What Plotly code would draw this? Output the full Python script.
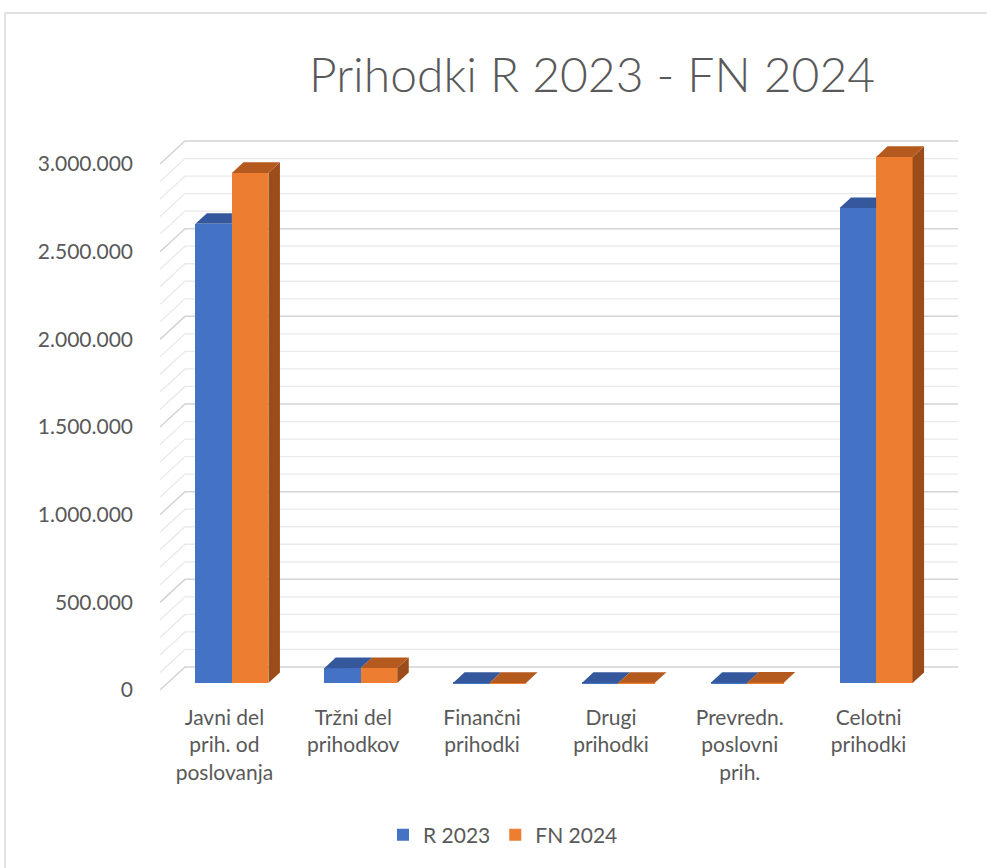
import plotly.graph_objects as go

# ---------------- data ----------------
categories = ["Javni del<br>prih. od<br>poslovanja", "Tržni del<br>prihodkov", "Finančni<br>prihodki",
              "Drugi<br>prihodki", "Prevredn.<br>poslovni<br>prih.", "Celotni<br>prihodki"]
series_names = ["R 2023", "FN 2024"]
r2023 = [2620000, 85000, 1000, 1000, 2000, 2709000]
fn2024 = [2910000, 86000, 1000, 1500, 2500, 3001000]
y_tick_values = [0, 500000, 1000000, 1500000, 2000000, 2500000, 3000000]
y_tick_labels = ["0", "500.000", "1.000.000", "1.500.000", "2.000.000", "2.500.000", "3.000.000"]
grid_step = 100000

# ---------------- styles / geometry ----------------
W, H = 987, 868
ML, MR, MT, MB = 160, 29, 138, 175
plot_w = W - ML - MR
plot_h = H - MT - MB
ncat = len(categories)
depth_px_x, depth_px_y = 25, 23
ppx = (plot_w - depth_px_x) / ncat          # px per category unit
DX = depth_px_x / ppx
front0_px = 690 - MT                          # px from plot top where front 0 sits
ppy = 526 / 3000000                           # px per value unit
ymax = front0_px / ppy
ymin = -(plot_h - front0_px) / ppy
DY = depth_px_y / ppy
BW = 36.5 / ppx
d0, d1 = 0.30, 0.76
dd = d1 - d0

blue, orange = "#4472C4", "#ED7D31"
blue_top, orange_top = "#34589B", "#B55A1E"
orange_side = "#9C4C19"
text_col = "#595959"
FONT = "Lato"

fig = go.Figure()

# back wall + side wall gridlines (shapes, drawn below the bars)
shapes = []
v = 0
while v <= y_tick_values[-1]:
    major = (v % 500000 == 0)
    col = "#D4D4D4" if major else "#E9E9E9"
    wid = 1.5 if major else 1.3
    path = (f"M {-0.5},{v} L {-0.5 + DX},{v + DY} L {ncat - 0.5 + DX},{v + DY}")
    shapes.append(dict(type="path", xref="x", yref="y", path=path,
                       line=dict(color=col, width=wid), layer="below"))
    v += grid_step

# outer chart border
shapes.append(dict(type="rect", xref="paper", yref="paper",
                   x0=(5 - ML) / plot_w, x1=1.2, y0=-0.5, y1=(H - MB - 13) / plot_h,
                   line=dict(color="#D9D9D9", width=1.5), fillcolor="rgba(0,0,0,0)", layer="below"))

# front faces as bars
for s, (name, vals, col) in enumerate(zip(series_names, [r2023, fn2024], [blue, orange])):
    fig.add_trace(go.Bar(
        x=[i + (s - 0.5) * BW + d0 * DX for i in range(ncat)],
        y=vals, base=d0 * DY, width=BW, name=name,
        marker=dict(color=col, line=dict(width=0)), hoverinfo="skip"))

# 3D top and side faces
for i in range(ncat):
    # blue (left) top face, clipped by orange front face
    xl = i - BW + d0 * DX
    xr = i + d0 * DX
    top = r2023[i] + d0 * DY
    topO = fn2024[i] + d0 * DY
    t = min(max(topO, top), top + dd * DY)
    px_ = [xl, xr, xr, xr + dd * DX * (t - top) / (dd * DY), xr + dd * DX, xl + dd * DX, xl]
    py_ = [top, top, t, t, top + dd * DY, top + dd * DY, top]
    fig.add_trace(go.Scatter(x=px_, y=py_, fill="toself", fillcolor=blue_top, mode="lines",
                             line=dict(width=0, color=blue_top), showlegend=False, hoverinfo="skip"))
    # orange (right) top + side faces
    xl = i + d0 * DX
    xr = i + BW + d0 * DX
    base = d0 * DY
    fig.add_trace(go.Scatter(
        x=[xr, xr + dd * DX, xr + dd * DX, xr, xr],
        y=[base, base + dd * DY, topO + dd * DY, topO, base],
        fill="toself", fillcolor=orange_side, mode="lines",
        line=dict(width=0, color=orange_side), showlegend=False, hoverinfo="skip"))
    fig.add_trace(go.Scatter(
        x=[xl, xr, xr + dd * DX, xl + dd * DX, xl],
        y=[topO, topO, topO + dd * DY, topO + dd * DY, topO],
        fill="toself", fillcolor=orange_top, mode="lines",
        line=dict(width=0, color=orange_top), showlegend=False, hoverinfo="skip"))

fig.update_layout(
    width=W, height=H,
    margin=dict(l=ML, r=MR, t=MT, b=MB),
    paper_bgcolor="white", plot_bgcolor="rgba(0,0,0,0)",
    barmode="overlay", bargap=0,
    separators=",.",
    font=dict(family=FONT, color=text_col, size=18),
    title=dict(text="Prihodki R 2023 - FN 2024", x=(592 - ML) / plot_w, xref="paper", xanchor="center",
               y=1 - 75 / H, yanchor="middle",
               font=dict(family=FONT, size=48, color=text_col, weight=300)),
    xaxis=dict(range=[-0.5, ncat - 0.5 + DX], tickmode="array", tickvals=list(range(ncat)),
               ticktext=categories, showgrid=False, zeroline=False, showline=False, ticks="",
               ticklabelstandoff=10, tickfont=dict(size=21, color=text_col), fixedrange=True),
    yaxis=dict(range=[ymin, ymax], tickmode="array", tickvals=y_tick_values, ticktext=y_tick_labels,
               showgrid=False, zeroline=False, showline=False, ticks="", ticklabelstandoff=26,
               tickfont=dict(size=21, color=text_col), fixedrange=True),
    legend=dict(orientation="h", x=(503 - ML) / plot_w, xanchor="center",
                y=-(835 - (H - MB)) / plot_h, yanchor="middle",
                font=dict(size=21, color=text_col), itemwidth=30, traceorder="normal"),
    shapes=shapes,
)

fig.write_html("out.html", post_script="document.body.style.margin='0';",
               config={"displayModeBar": False})
